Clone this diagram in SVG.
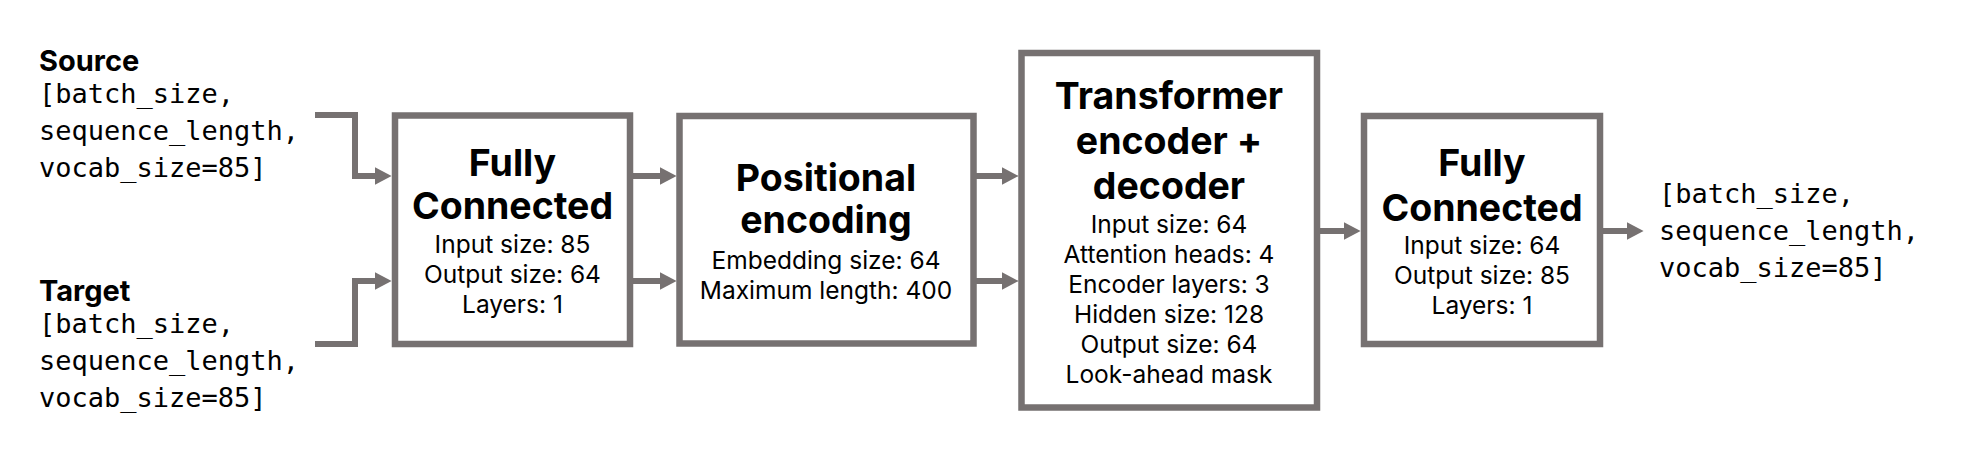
<svg xmlns="http://www.w3.org/2000/svg" width="1969" height="473" viewBox="0 0 1969 473">
<style>
.box{fill:#ffffff;stroke:#767171;stroke-width:6.5}
.ln{fill:none;stroke:#767171;stroke-width:6;marker-end:url(#ah)}
.title{font-family:Inter,"Liberation Sans",sans-serif;font-weight:700;font-size:37.5px;fill:#000;text-anchor:middle}
.body{font-family:Inter,"Liberation Sans",sans-serif;font-size:24.5px;fill:#000;text-anchor:middle}
.lbl{font-family:Inter,"Liberation Sans",sans-serif;font-weight:700;font-size:29px;fill:#000}
.mono{font-family:"DejaVu Sans Mono","Liberation Mono",monospace;font-size:27px;fill:#000}
</style>
<defs>
<marker id="ah" markerUnits="userSpaceOnUse" markerWidth="17" markerHeight="18" refX="6" refY="8.5" orient="auto" viewBox="0 0 16 17">
<path d="M0,0 L16,8.5 L0,17 Z" fill="#767171"/>
</marker>
</defs>
<rect width="1969" height="473" fill="#ffffff"/>
<g id="source">
<text class="lbl" x="39" y="71">Source</text>
<text class="mono" x="39" y="103">[batch_size,</text>
<text class="mono" x="39" y="140">sequence_length,</text>
<text class="mono" x="39" y="177">vocab_size=85]</text>
</g>
<g id="target">
<text class="lbl" x="39" y="301">Target</text>
<text class="mono" x="39" y="333">[batch_size,</text>
<text class="mono" x="39" y="370">sequence_length,</text>
<text class="mono" x="39" y="407">vocab_size=85]</text>
</g>
<g id="connectors">
<path class="ln" d="M315,115 H355 V176 H381"/>
<path class="ln" d="M315,344 H355 V281 H381"/>
<path class="ln" d="M633,176 H666"/>
<path class="ln" d="M633,281 H666"/>
<path class="ln" d="M976,176 H1008"/>
<path class="ln" d="M976,281 H1008"/>
<path class="ln" d="M1320,231 H1350"/>
<path class="ln" d="M1603,231 H1633"/>
</g>
<g id="fc1">
<rect class="box" x="395" y="115.5" width="235" height="228.5"/>
<text class="title" x="512.5" y="176">Fully</text>
<text class="title" x="512.5" y="219">Connected</text>
<text class="body" x="512.5" y="253">Input size: 85</text>
<text class="body" x="512.5" y="283">Output size: 64</text>
<text class="body" x="512.5" y="313">Layers: 1</text>
</g>
<g id="posenc">
<rect class="box" x="679.5" y="116" width="294" height="227.5"/>
<text class="title" x="826" y="191">Positional</text>
<text class="title" x="826" y="233">encoding</text>
<text class="body" x="826" y="269">Embedding size: 64</text>
<text class="body" x="826" y="299">Maximum length: 400</text>
</g>
<g id="transformer">
<rect class="box" x="1021.5" y="53" width="295.5" height="354.5"/>
<text class="title" x="1169" y="109">Transformer</text>
<text class="title" x="1169" y="154">encoder +</text>
<text class="title" x="1169" y="199">decoder</text>
<text class="body" x="1169" y="233">Input size: 64</text>
<text class="body" x="1169" y="263">Attention heads: 4</text>
<text class="body" x="1169" y="293">Encoder layers: 3</text>
<text class="body" x="1169" y="323">Hidden size: 128</text>
<text class="body" x="1169" y="353">Output size: 64</text>
<text class="body" x="1169" y="383">Look-ahead mask</text>
</g>
<g id="fc2">
<rect class="box" x="1364" y="116" width="236" height="228"/>
<text class="title" x="1482" y="176">Fully</text>
<text class="title" x="1482" y="221">Connected</text>
<text class="body" x="1482" y="254">Input size: 64</text>
<text class="body" x="1482" y="284">Output size: 85</text>
<text class="body" x="1482" y="314">Layers: 1</text>
</g>
<g id="output">
<text class="mono" x="1659" y="203">[batch_size,</text>
<text class="mono" x="1659" y="240">sequence_length,</text>
<text class="mono" x="1659" y="277">vocab_size=85]</text>
</g>
</svg>
